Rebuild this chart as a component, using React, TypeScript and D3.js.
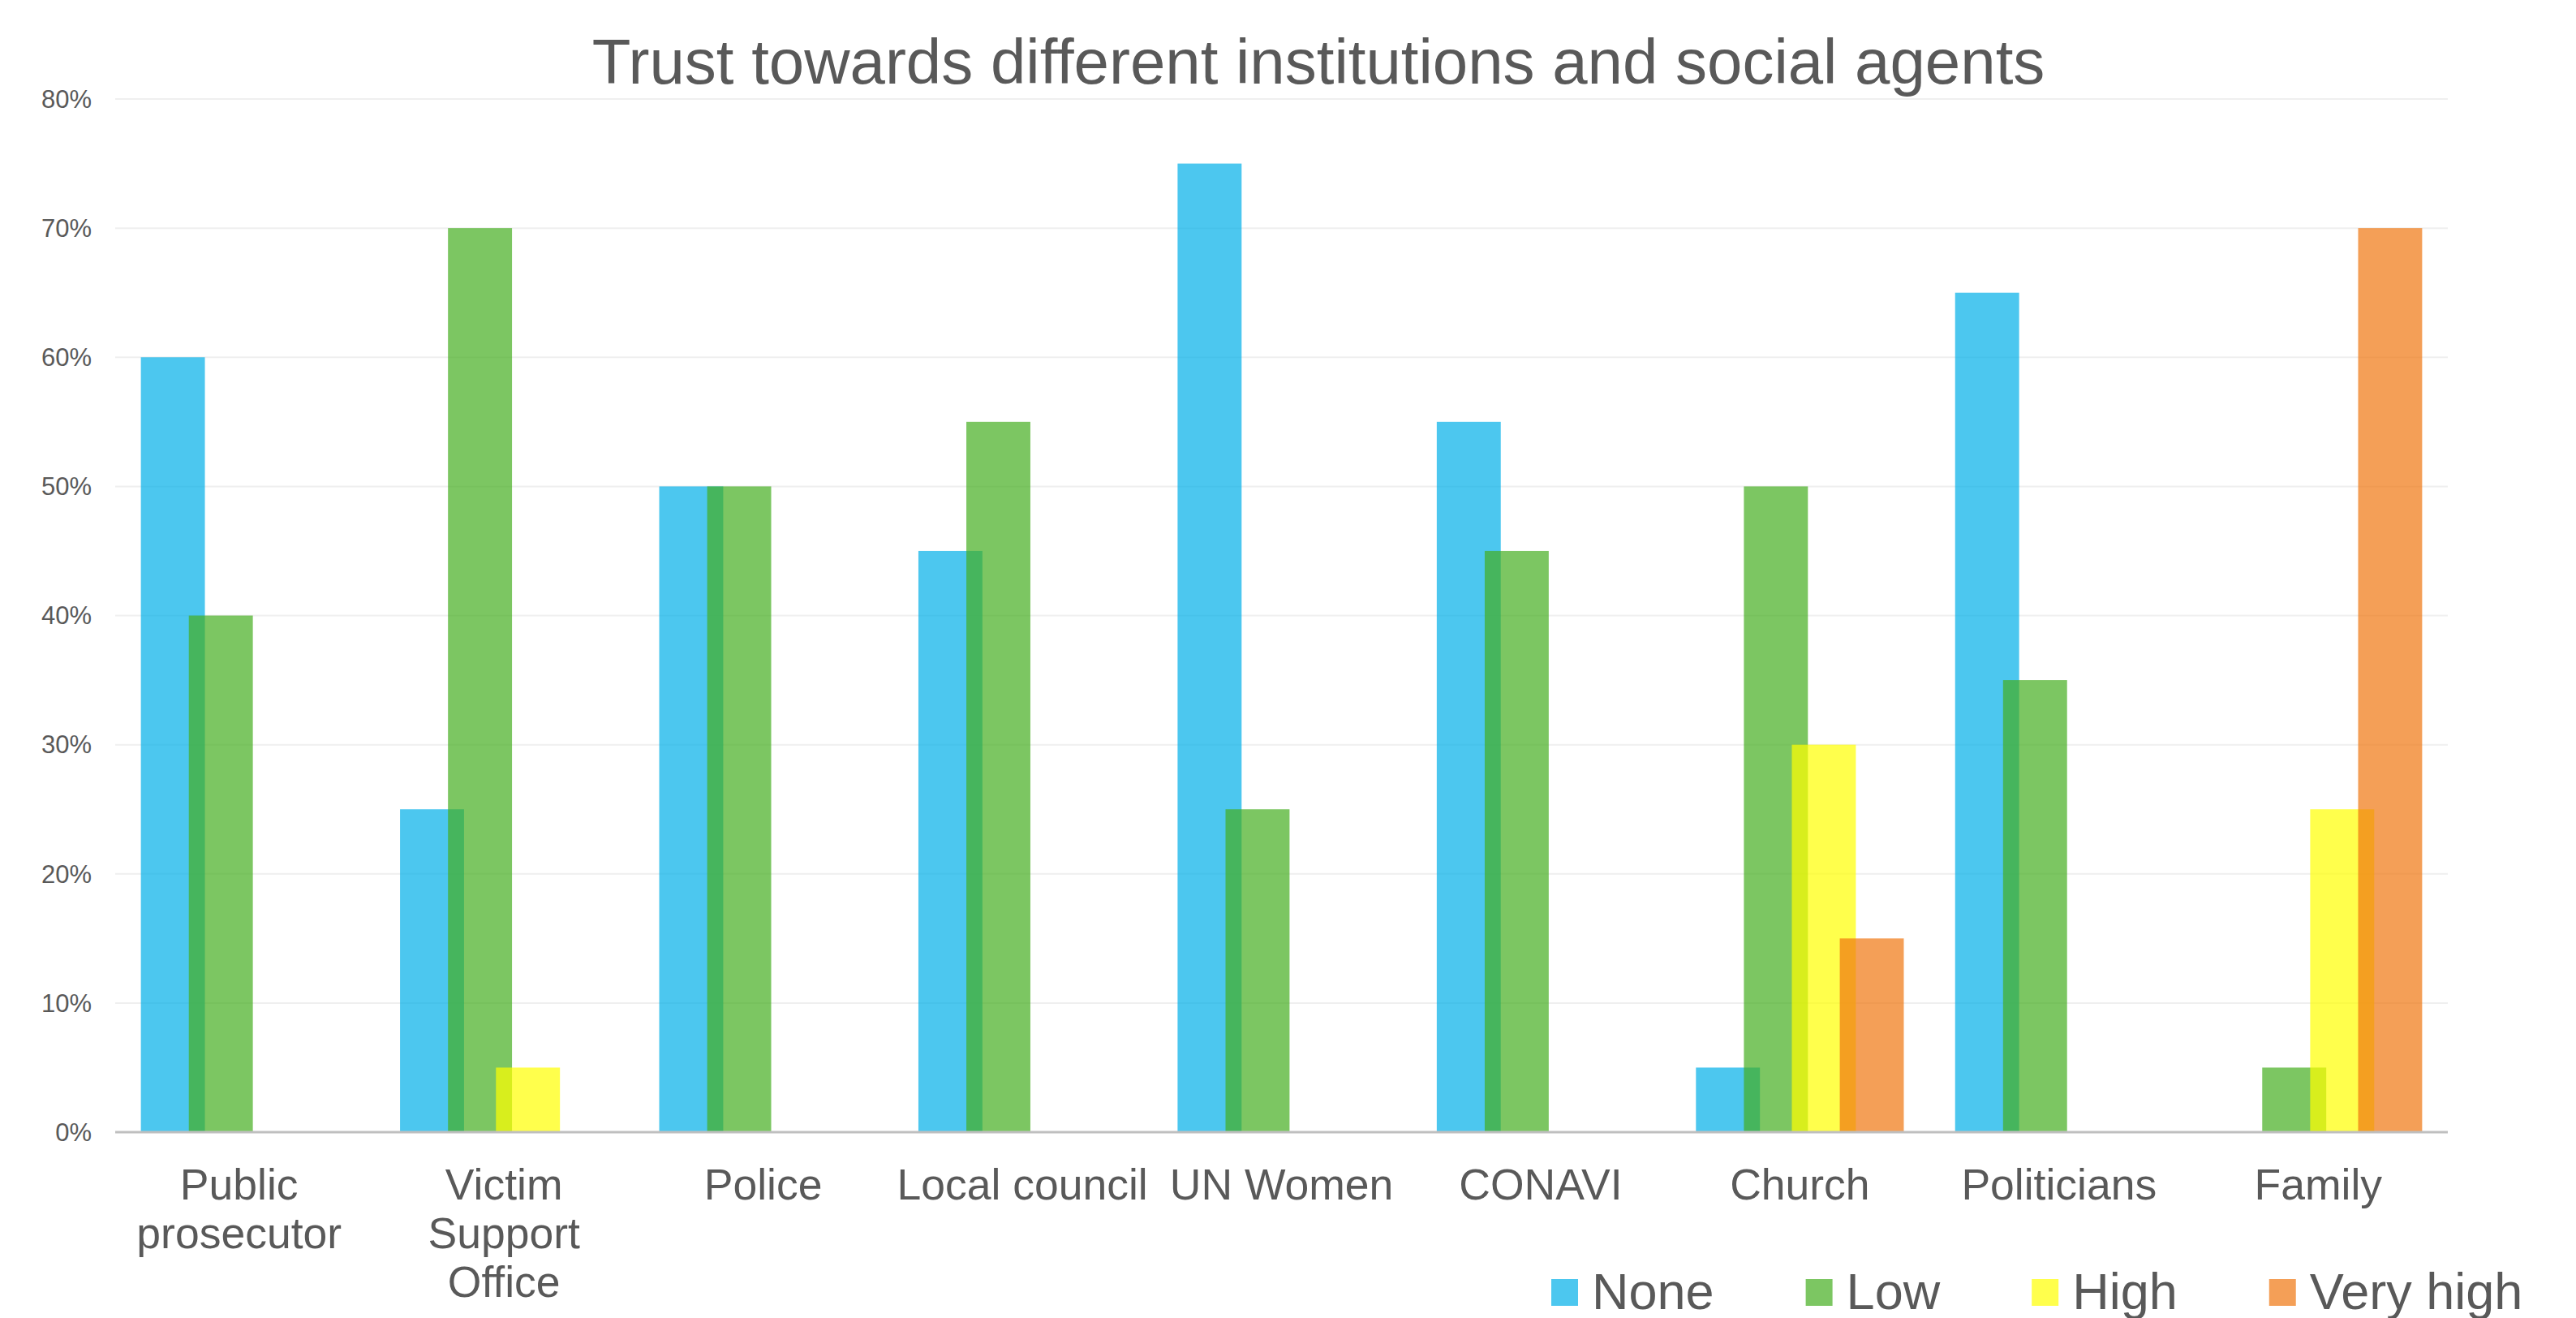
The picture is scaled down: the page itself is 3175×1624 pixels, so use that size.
import React from "react";
import * as d3 from "d3";

const categories = [
  ["Public", "prosecutor"],
  ["Victim", "Support", "Office"],
  ["Police"],
  ["Local council"],
  ["UN Women"],
  ["CONAVI"],
  ["Church"],
  ["Politicians"],
  ["Family"],
];
const seriesNames = ["None", "Low", "High", "Very high"];
const noneValues = [60, 25, 50, 45, 75, 55, 5, 65, 0];
const lowValues = [40, 70, 50, 55, 25, 45, 50, 35, 5];
const highValues = [0, 5, 0, 0, 0, 0, 30, 0, 25];
const veryHighValues = [0, 0, 0, 0, 0, 0, 15, 0, 70];
const seriesColors = ["#00afe8", "#45ae20", "#ffff00", "#ef7610"];
const yTicks = [0, 10, 20, 30, 40, 50, 60, 70, 80];
const title = "Trust towards different institutions and social agents";

const W = 3175;
const H = 1624;
const FONT = "'Liberation Sans', Arial, sans-serif";
const TEXT = "#595959";

function measure(text: string, size: number) {
  const c = document.createElement("canvas").getContext("2d");
  if (!c) return text.length * size * 0.5;
  c.font = `${size}px 'Liberation Sans', Arial, sans-serif`;
  return c.measureText(text).width;
}

export default function App() {
  const series = [noneValues, lowValues, highValues, veryHighValues];
  const keys = categories.map((c) => c.join(" "));
  const x = d3.scaleBand<string>().domain(keys).range([142, 3017]).padding(0);
  const y = d3.scaleLinear().domain([0, 80]).range([1395, 122]);
  const bw = x.bandwidth();
  const barW = bw * 0.247;
  const step = bw * 0.185;
  const groupW = step * 3 + barW;

  // legend layout
  const legendFont = 63;
  const sq = 33;
  let lx = 1912;
  const legendItems = seriesNames.map((n, i) => {
    const item = { name: n, x: lx, color: seriesColors[i] };
    lx += sq + 17 + measure(n, legendFont) + 113;
    return item;
  });

  return (
    <svg
      width={W}
      height={H}
      style={{ position: "absolute", left: 0, top: 0, background: "#fff" }}
      fontFamily={FONT}
    >
      <rect x={0} y={0} width={W} height={H} fill="#fff" />
      <text x={1625} y={103} textAnchor="middle" fontSize={78} fill={TEXT}>
        {title}
      </text>
      {yTicks.map((t) => (
        <g key={t}>
          {t > 0 && (
            <line x1={142} x2={3017} y1={y(t)} y2={y(t)} stroke="#efefef" strokeWidth={2} />
          )}
          <text
            x={113}
            y={y(t)}
            dy="0.35em"
            textAnchor="end"
            fontSize={31}
            fill={TEXT}
          >
            {t}%
          </text>
        </g>
      ))}
      {series.map((vals, si) => (
        <g key={si} fill={seriesColors[si]} fillOpacity={0.7}>
          {vals.map((v, ci) =>
            v > 0 ? (
              <rect
                key={ci}
                x={(x(keys[ci]) as number) + bw / 2 - groupW / 2 + si * step}
                y={y(v)}
                width={barW}
                height={y(0) - y(v)}
              />
            ) : null
          )}
        </g>
      ))}
      <line x1={142} x2={3017} y1={y(0)} y2={y(0)} stroke="#bfbfbf" strokeWidth={3} />
      {categories.map((lines, ci) => {
        const cx = (x(keys[ci]) as number) + bw / 2 - (ci === 0 ? 7 : 0);
        return (
          <text key={ci} x={cx} y={1478} textAnchor="middle" fontSize={53.5} fill={TEXT}>
            {lines.map((l, li) => (
              <tspan key={li} x={cx} dy={li === 0 ? 0 : 60}>
                {l}
              </tspan>
            ))}
          </text>
        );
      })}
      {legendItems.map((it) => (
        <g key={it.name}>
          <rect x={it.x} y={1576} width={sq} height={sq} fill={it.color} fillOpacity={0.7} />
          <text x={it.x + sq + 17} y={1613} fontSize={legendFont} fill={TEXT}>
            {it.name}
          </text>
        </g>
      ))}
    </svg>
  );
}
